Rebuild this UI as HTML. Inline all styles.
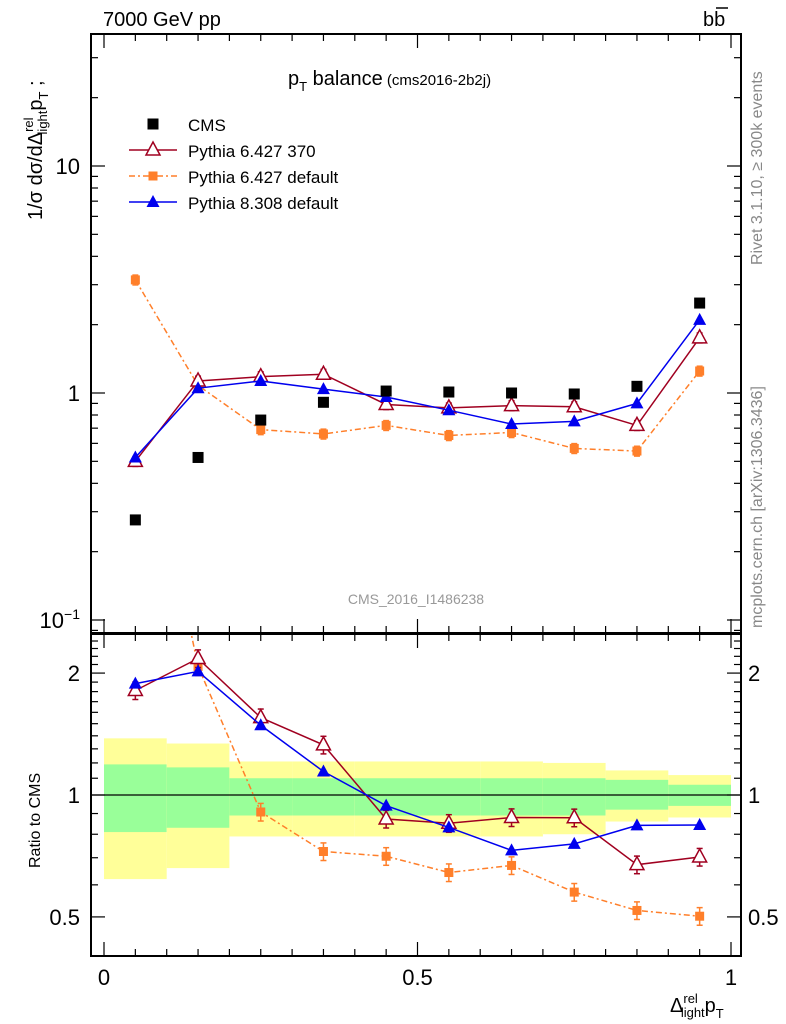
<!DOCTYPE html>
<html><head><meta charset="utf-8"><style>
body{margin:0;background:#fff;}
svg{display:block;font-family:"Liberation Sans",sans-serif;}
</style></head><body>
<svg id="c" width="786" height="1024" viewBox="0 0 786 1024"></svg>
<script>
const binCenters=[0.05,0.15,0.25,0.35,0.45,0.55,0.65,0.75,0.85,0.95];
const cmsVals=[0.276,0.52,0.76,0.91,1.02,1.01,1.0,0.99,1.07,2.49];
const p6370Vals=[0.50,1.13,1.18,1.21,0.89,0.86,0.88,0.87,0.72,1.75];
const p6defVals=[3.15,1.08,0.69,0.66,0.72,0.65,0.67,0.57,0.555,1.25];
const p8Vals=[0.52,1.05,1.13,1.04,0.96,0.84,0.73,0.75,0.90,2.10];
const p6370Err=[0.05,0.05,0.05,0.05,0.05,0.05,0.05,0.05,0.05,0.05];
const p6defErr=[0.05,0.05,0.05,0.05,0.05,0.05,0.05,0.05,0.05,0.05];
const yellowUp=[1.38,1.34,1.21,1.21,1.21,1.21,1.21,1.20,1.15,1.12];
const yellowLo=[0.62,0.66,0.79,0.79,0.79,0.79,0.79,0.80,0.86,0.88];
const greenUp=[1.19,1.17,1.10,1.10,1.10,1.10,1.10,1.10,1.09,1.06];
const greenLo=[0.81,0.83,0.89,0.89,0.89,0.89,0.89,0.89,0.92,0.94];
const mainTicks=[[10,"10"],[1,"1"]];
const ratioTicks=[[2,"2"],[1,"1"],[0.5,"0.5"]];
const xTickLabels=[[0,"0"],[0.5,"0.5"],[1,"1"]];

const NS="http://www.w3.org/2000/svg";
const svg=document.getElementById('c');
const L=91,R=741,T1=34,B1=633,T2=634,B2=956;
const X=v=>104+v*627;
const Y1=v=>393-227*Math.log10(v);
const Y2=v=>795-405*Math.log10(v);
function mk(tag,attrs,parent){const e=document.createElementNS(NS,tag);for(const k in attrs)e.setAttribute(k,attrs[k]);(parent||svg).appendChild(e);return e;}
function txt(s,x,y,size,attrs){const e=mk('text',Object.assign({x:x,y:y,'font-size':size},attrs||{}));e.textContent=s;return e;}

// clip paths
const defs=mk('defs',{});
const c1=mk('clipPath',{id:'cp1'},defs);mk('rect',{x:L,y:T1,width:R-L,height:B1-T1},c1);
const c2=mk('clipPath',{id:'cp2'},defs);mk('rect',{x:L,y:T2,width:R-L,height:B2-T2},c2);

// ratio bands
const gb=mk('g',{'clip-path':'url(#cp2)'});

binCenters.forEach((c,i)=>{
  const x0=X(c-0.05),x1=X(c+0.05);
  const r1=mk('rect',{x:x0,y:Y2(yellowUp[i]),width:x1-x0,height:Y2(yellowLo[i])-Y2(yellowUp[i]),fill:'#ffff99'},gb);
  
  const r2=mk('rect',{x:x0,y:Y2(greenUp[i]),width:x1-x0,height:Y2(greenLo[i])-Y2(greenUp[i]),fill:'#99ff99'},gb);
  
});
mk('line',{x1:L,x2:R,y1:Y2(1),y2:Y2(1),stroke:'#000','stroke-width':1.2});

// frames
const f1=mk('rect',{x:L,y:T1,width:R-L,height:B1-T1,fill:'none',stroke:'#000','stroke-width':2});

const f2=mk('rect',{x:L,y:T2,width:R-L,height:B2-T2,fill:'none',stroke:'#000','stroke-width':2});


// x ticks
for(let k=0;k<=20;k++){const v=k*0.05,x=X(v);const len=(k%10==0)?14:7;
  [[T1,1],[B1,-1],[T2,1],[B2,-1]].forEach(([y,d])=>mk('line',{x1:x,x2:x,y1:y,y2:y+d*len,stroke:'#000','stroke-width':1.2}));}
xTickLabels.forEach(([v,s])=>{const t=txt(s,X(v),985,22,{'text-anchor':'middle'});});

// main y ticks (log)
for(let e=-2;e<=1;e++){for(let m=1;m<=9;m++){const v=m*Math.pow(10,e);const y=Y1(v);if(y<T1||y>B1)continue;const len=m==1?14:7;
  mk('line',{x1:L,x2:L+len,y1:y,y2:y,stroke:'#000','stroke-width':1.2});mk('line',{x1:R,x2:R-len,y1:y,y2:y,stroke:'#000','stroke-width':1.2});}}
mainTicks.forEach(([v,s])=>{const t=txt(s,80,Y1(v)+8,22,{'text-anchor':'end'});});
const t01=mk('text',{x:80,y:Y1(0.1)+8,'font-size':22,'text-anchor':'end'});t01.innerHTML='10<tspan font-size="14" dy="-9">−1</tspan>';


// ratio y ticks
[0.4,0.5,0.6,0.7,0.8,0.9,1,1.1,1.2,1.3,1.4,1.5,1.6,1.7,1.8,1.9,2,2.1,2.2,2.3,2.4].forEach(v=>{const y=Y2(v);const len=(v==0.5||v==1||v==2)?14:7;
  mk('line',{x1:L,x2:L+len,y1:y,y2:y,stroke:'#000','stroke-width':1.2});mk('line',{x1:R,x2:R-len,y1:y,y2:y,stroke:'#000','stroke-width':1.2});});
ratioTicks.forEach(([v,s])=>{const a=txt(s,80,Y2(v)+8,22,{'text-anchor':'end'});
  const b=txt(s,748,Y2(v)+8,22);});

// series drawing
function series(vals,errs,Yf,clip,color,marker,dash,name){
  const g=mk('g',{'clip-path':clip});
  if(dash!==null){const pts=binCenters.map((c,i)=>X(c)+','+Yf(vals[i])).join(' ');
    const pl=mk('polyline',{points:pts,fill:'none',stroke:color,'stroke-width':1.5,'stroke-dasharray':dash},g);
    }
  binCenters.forEach((c,i)=>{const x=X(c),y=Yf(vals[i]);
    if(errs){const yu=Yf(vals[i]*(1+errs[i])),yl=Yf(vals[i]*(1-errs[i]));
      mk('line',{x1:x,x2:x,y1:yu,y2:yl,stroke:color,'stroke-width':1.5},g);
      mk('line',{x1:x-3,x2:x+3,y1:yu,y2:yu,stroke:color,'stroke-width':1.5},g);
      mk('line',{x1:x-3,x2:x+3,y1:yl,y2:yl,stroke:color,'stroke-width':1.5},g);}
    let m;
    if(marker=='sq')m=mk('rect',{x:x-5.5,y:y-5.5,width:11,height:11,fill:color},g);
    else if(marker=='ssq')m=mk('rect',{x:x-4.5,y:y-4.5,width:9,height:9,fill:color},g);
    else if(marker=='otri')m=mk('polygon',{points:`${x},${y-8} ${x-7},${y+5} ${x+7},${y+5}`,fill:'#fff',stroke:color,'stroke-width':1.5},g);
    else m=mk('polygon',{points:`${x},${y-7} ${x-6.5},${y+5} ${x+6.5},${y+5}`,fill:color},g);
    
  });
}
const c1c='url(#cp1)',c2c='url(#cp2)';
series(p6defVals,p6defErr,Y1,c1c,'#ff7f2a','ssq','6,3,2,3','pythia6-default-series');
series(p6370Vals,p6370Err,Y1,c1c,'#a00020','otri','','pythia6-370-series');
series(p8Vals,null,Y1,c1c,'#0000ee','tri','','pythia8-series');
series(cmsVals,null,Y1,c1c,'#000','sq',null,'cms-data-series');
const rat=a=>a.map((v,i)=>v/cmsVals[i]);
series(rat(p6defVals),p6defErr,Y2,c2c,'#ff7f2a','ssq','6,3,2,3','ratio-pythia6-default');
series(rat(p6370Vals),p6370Err,Y2,c2c,'#a00020','otri','','ratio-pythia6-370');
series(rat(p8Vals),null,Y2,c2c,'#0000ee','tri','','ratio-pythia8');

// legend
const lg=mk('g',{});
const leg=[['CMS','#000','sq',null],['Pythia 6.427 370','#a00020','otri',''],['Pythia 6.427 default','#ff7f2a','ssq','6,3,2,3'],['Pythia 8.308 default','#0000ee','tri','']];
leg.forEach((e,i)=>{const y=124+i*26,x=153;
  const g=mk('g',{},lg);
  if(e[3]!==null)mk('line',{x1:129,x2:177,y1:y,y2:y,stroke:e[1],'stroke-width':1.5,'stroke-dasharray':e[3]},g);
  if(e[2]=='sq')mk('rect',{x:x-5.5,y:y-5.5,width:11,height:11,fill:e[1]},g);
  else if(e[2]=='ssq')mk('rect',{x:x-4.5,y:y-4.5,width:9,height:9,fill:e[1]},g);
  else if(e[2]=='otri')mk('polygon',{points:`${x},${y-8} ${x-7},${y+5} ${x+7},${y+5}`,fill:'#fff',stroke:e[1],'stroke-width':1.5},g);
  else mk('polygon',{points:`${x},${y-7} ${x-6.5},${y+5} ${x+6.5},${y+5}`,fill:e[1]},g);
  txt(e[0],188,y+7,17,{});
  
});

// texts
const h=txt('7000 GeV pp',103,26,20);
const bb=mk('text',{x:703,y:26,'font-size':20});bb.textContent='bb';
mk('line',{x1:716,x2:728,y1:8,y2:8,stroke:'#000','stroke-width':1.5});
const ti=mk('text',{x:288,y:85,'font-size':20});ti.innerHTML='p<tspan font-size="13" dy="6">T</tspan><tspan dy="-6"> balance</tspan><tspan font-size="15"> (cms2016-2b2j)</tspan>';

const yt=mk('text',{transform:'translate(42,220) rotate(-90)','font-size':20});
yt.innerHTML='1/σ dσ/dΔ<tspan font-size="13" dy="-9">rel</tspan><tspan font-size="13" dx="-17" dy="14">light</tspan><tspan dy="-5">p</tspan><tspan font-size="13" dy="6">T</tspan><tspan dy="-6"> ;</tspan>';

const rt=txt('Ratio to CMS',0,0,16,{transform:'translate(40,868) rotate(-90)'});
const xt=mk('text',{x:670,y:1012,'font-size':20});
xt.innerHTML='Δ<tspan font-size="13" dy="-9">rel</tspan><tspan font-size="13" dx="-17" dy="14">light</tspan><tspan dy="-5">p</tspan><tspan font-size="13" dy="6">T</tspan>';

const r1=txt('Rivet 3.1.10, ≥ 300k events',0,0,16,{fill:'#888',transform:'translate(762,265) rotate(-90)'});
const r2=txt('mcplots.cern.ch [arXiv:1306.3436]',0,0,16,{fill:'#888',transform:'translate(762,628) rotate(-90)'});
const an=txt('CMS_2016_I1486238',416,604,14,{fill:'#999','text-anchor':'middle'});
</script>
</body></html>
